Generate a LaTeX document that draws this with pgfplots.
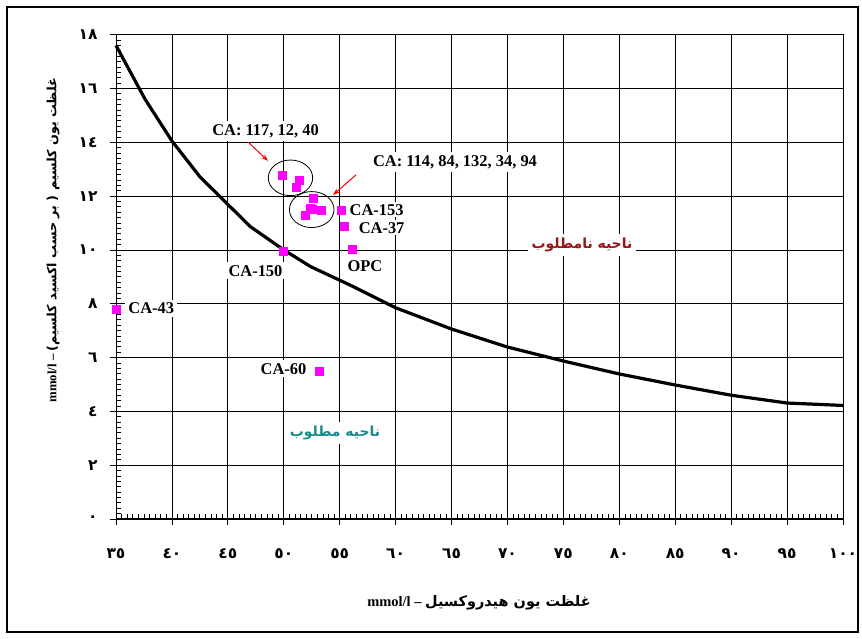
\documentclass[border=0pt]{standalone}
\usepackage{pgfplots}
\pgfplotsset{compat=1.18}
\usepackage{fontspec}
\usetikzlibrary{arrows.meta}
\setmainfont{Liberation Serif}
\newfontfamily\arabicfont[Script=Arabic]{DejaVu Sans}
\TeXXeTstate=1
\definecolor{mag}{RGB}{255,0,255}
\definecolor{badred}{RGB}{150,22,22}
\definecolor{goodteal}{RGB}{22,140,140}
\tikzset{lbl/.style={font=\bfseries\fontsize{16.5}{18}\selectfont, fill=white, inner sep=3bp}}
\pgfplotstableread{
x y
35 17.6
37.6 15.6
40 14.05
42.5 12.72
44.3 11.98
47 10.87
50 10.0
52.4 9.38
56.2 8.64
60 7.85
65 7.06
70 6.39
75 5.87
80 5.39
85 4.98
90 4.6
95 4.31
100 4.22
}\curve
\pgfplotstableread{
x y
35.0 7.78
49.96 9.94
53.18 5.51
56.15 10.03
55.38 10.87
55.11 11.46
49.9 12.79
51.36 12.61
51.15 12.34
52.6 11.94
52.4 11.54
52.55 11.5
53.33 11.48
51.93 11.28
}\pts
\begin{document}
\begin{tikzpicture}[x=1bp,y=1bp]
\path[use as bounding box] (0,0) rectangle (862,639);
\draw[line width=1.2bp] (7,7) rectangle (858,632);
\begin{axis}[
  at={(116bp,120bp)}, anchor=south west,
  scale only axis, width=727bp, height=484.3bp,
  xmin=35, xmax=100, ymin=0, ymax=18,
  clip=false,
  xtick={35,40,...,100},
  ytick={0,2,...,18},
  xticklabels={٣٥,٤٠,٤٥,٥٠,٥٥,٦٠,٦٥,٧٠,٧٥,٨٠,٨٥,٩٠,٩٥,١٠٠},
  yticklabels={٠,٢,٤,٦,٨,١٠,١٢,١٤,١٦,١٨},
  ticklabel style={font=\arabicfont\bfseries\fontsize{15.5}{15.5}\selectfont},
  xticklabel style={yshift=-26bp},
  yticklabel style={xshift=-15bp},
  minor x tick num=9, minor y tick num=9,
  tick align=inside,
  major tick length=-6bp, minor tick length=5bp,
  xtick pos=bottom, ytick pos=left,
  tick style={black, line width=0.8bp},
  grid=major,
  major grid style={black, line width=0.8bp},
  axis line style={black, line width=1bp},
]
\addplot[black, line width=3.2bp, no marks] table[x=x,y=y] {\curve};
\addplot[only marks, mark=square*, mark size=4bp, color=mag] table[x=x,y=y] {\pts};
\draw[black, line width=0.8bp] (axis cs:50.6,12.68) ellipse [x radius=22.2bp, y radius=17.8bp];
\draw[black, line width=0.8bp] (axis cs:52.5,11.5) ellipse [x radius=22.3bp, y radius=18bp];
\draw[red, line width=1bp, -{Stealth[length=7bp,width=5bp]}] (axis cs:46.83,14.0) -- (axis cs:48.59,13.31);
\draw[red, line width=1bp, -{Stealth[length=7bp,width=5bp]}] (axis cs:56.46,12.79) -- (axis cs:54.4,12.04);
\node[lbl] at (axis cs:48.37,14.42) {CA: 117, 12, 40};
\node[lbl] at (axis cs:65.31,13.27) {CA: 114, 84, 132, 34, 94};
\node[lbl, inner sep=2bp] at (axis cs:58.3,11.49) {CA-153};
\node[lbl, inner sep=2bp] at (axis cs:58.75,10.82) {CA-37};
\node[lbl, inner sep=2bp] at (axis cs:57.26,9.41) {OPC};
\node[lbl] at (axis cs:47.47,9.22) {CA-150};
\node[lbl] at (axis cs:38.15,7.84) {CA-43};
\node[lbl] at (axis cs:49.98,5.58) {CA-60};
\node[lbl, inner sep=4bp, text=badred] at (axis cs:76.66,10.19) {\arabicfont\bfseries\fontsize{14}{16}\selectfont\beginR ناحیه نامطلوب\endR};
\node[lbl, inner sep=4bp, text=goodteal] at (axis cs:54.58,3.2) {\arabicfont\bfseries\fontsize{14}{16}\selectfont\beginR ناحیه مطلوب\endR};
\end{axis}
\node[font=\bfseries\fontsize{14.5}{16}\selectfont] at (479,36) {\beginR{\arabicfont غلظت یون هیدروکسیل} – \beginL mmol/l\endL\endR};
\node[font=\bfseries\fontsize{12.8}{15}\selectfont, rotate=90] at (53,399) {\beginR{\arabicfont غلظت یون کلسیم ( بر حسب اکسید کلسیم)} – \beginL mmol/l\endL\endR};
\end{tikzpicture}
\end{document}
